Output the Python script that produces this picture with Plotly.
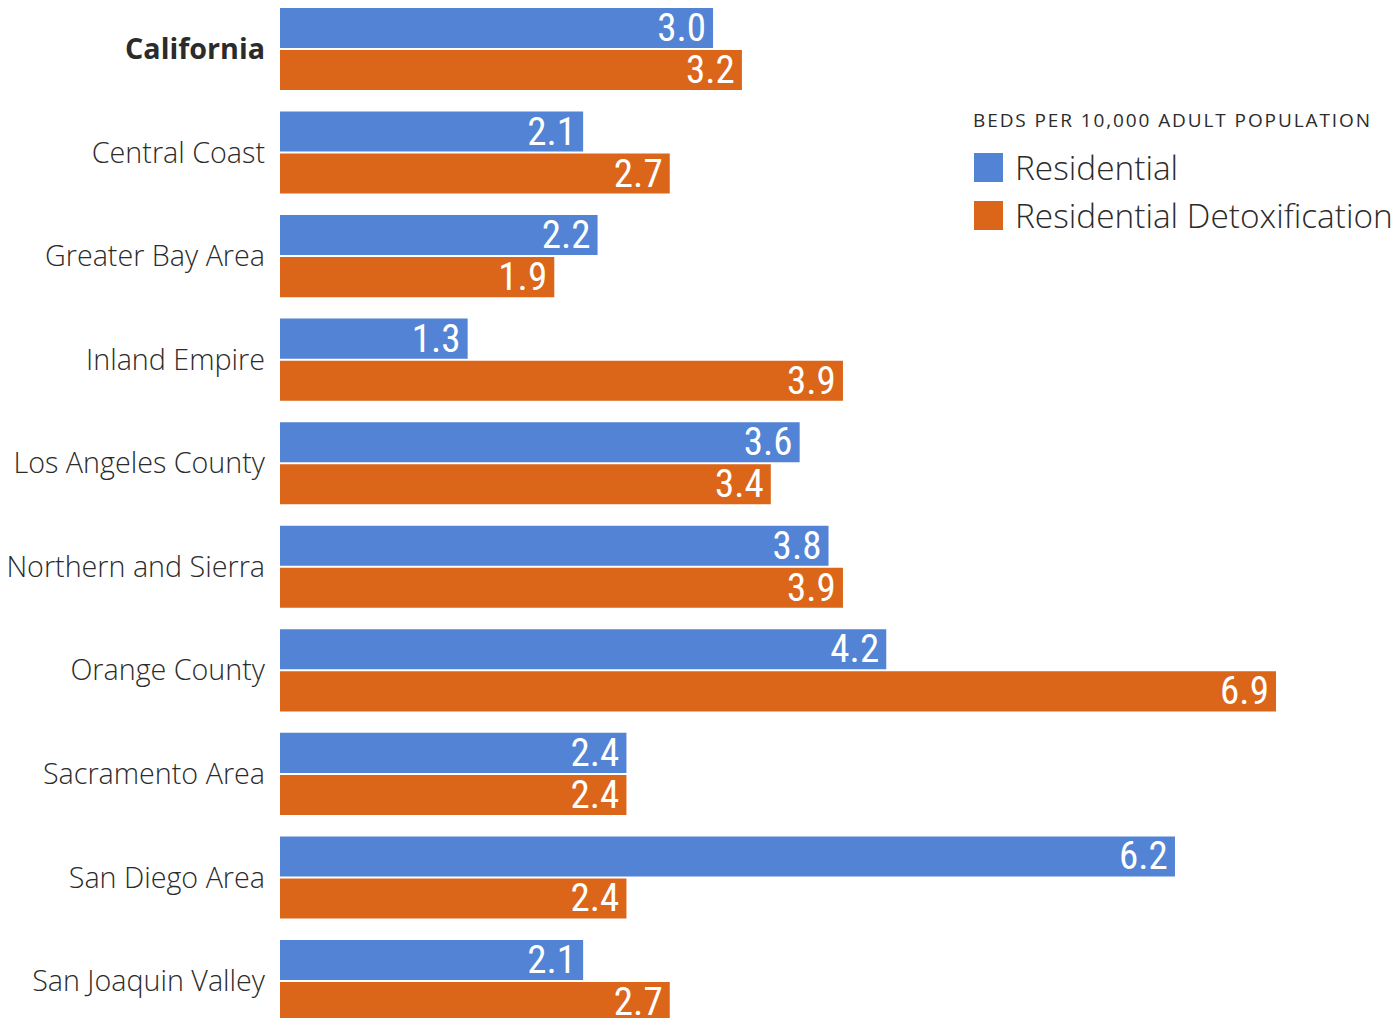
import plotly.graph_objects as go

# Regions and bed rates per 10,000 adult population
regions = [
    "California", "Central Coast", "Greater Bay Area", "Inland Empire",
    "Los Angeles County", "Northern and Sierra", "Orange County",
    "Sacramento Area", "San Diego Area", "San Joaquin Valley",
]
residential = [3.0, 2.1, 2.2, 1.3, 3.6, 3.8, 4.2, 2.4, 6.2, 2.1]
detox = [3.2, 2.7, 1.9, 3.9, 3.4, 3.9, 6.9, 2.4, 2.4, 2.7]

series_names = ["Residential", "Residential Detoxification"]
colors = ["#5283D4", "#DB6519"]
legend_title = "BEDS PER 10,000 ADULT POPULATION"

tick_text = ["<b>California</b>"] + regions[1:]

W, H = 1397, 1018
ML = 280

label_font = dict(family="Roboto Condensed", size=39, color="white")

fig = go.Figure()
for name, vals, col in zip(series_names, [residential, detox], colors):
    fig.add_trace(go.Bar(
        y=regions, x=vals, name=name, orientation="h",
        marker=dict(color=col, line=dict(width=0)),
        texttemplate="%{x:.1f}\u200a", textposition="inside",
        insidetextanchor="end", textangle=0, constraintext="none",
        textfont=label_font, insidetextfont=label_font, showlegend=False,
    ))

fig.update_layout(
    width=W, height=H,
    margin=dict(l=ML, r=0, t=0, b=0),
    paper_bgcolor="white", plot_bgcolor="white",
    barmode="group", bargap=0.188, bargroupgap=0.0476,
    xaxis=dict(range=[0, (W - ML) / 144.35], visible=False, fixedrange=True),
    yaxis=dict(
        type="category", categoryorder="array", categoryarray=regions,
        tickvals=regions, ticktext=tick_text,
        range=[9.357, -0.473], showgrid=False, zeroline=False,
        showline=False, ticks="", ticklabelstandoff=14,
        tickfont=dict(family="Open Sans", size=28.7, weight=300, color="#2b2b2b"),
    ),
)


def px_x(p):
    return (p - ML) / (W - ML)


def px_y(p):
    return 1 - p / H


# Legend: title, colour swatches and series names
fig.add_annotation(
    x=px_x(971), y=px_y(120), xref="paper", yref="paper",
    xanchor="left", yanchor="middle", showarrow=False,
    text='<span style="letter-spacing:1.9px">' + legend_title + "</span>",
    font=dict(family="Open Sans", size=19, color="#2b2b2b"),
)
for i, (name, col) in enumerate(zip(series_names, colors)):
    top = 153 + i * 48
    fig.add_shape(
        type="rect", xref="paper", yref="paper",
        x0=px_x(974), x1=px_x(1003), y0=px_y(top), y1=px_y(top + 29),
        fillcolor=col, line=dict(width=0),
    )
    fig.add_annotation(
        x=px_x(1013), y=px_y(top + 14), xref="paper", yref="paper",
        xanchor="left", yanchor="middle", showarrow=False, text=name,
        font=dict(family="Open Sans", size=33.4, weight=300, color="#2b2b2b"),
    )

fig.write_html("out.html")
